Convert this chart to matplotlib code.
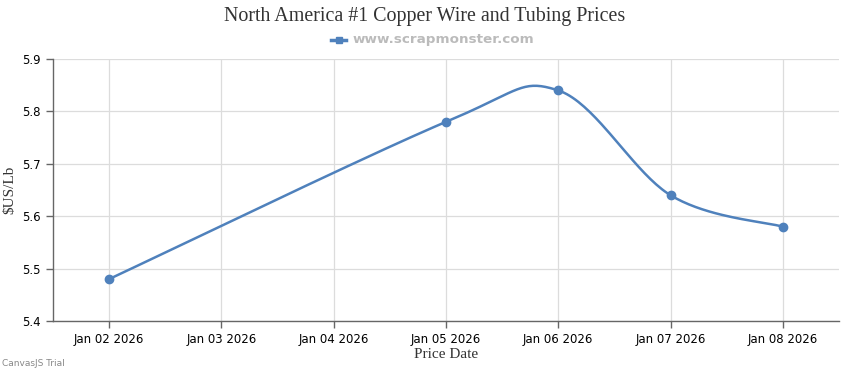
import matplotlib
matplotlib.use("Agg")
import matplotlib.pyplot as plt
from matplotlib.lines import Line2D
import numpy as np

# values
dates = ["Jan 02 2026", "Jan 03 2026", "Jan 04 2026", "Jan 05 2026",
         "Jan 06 2026", "Jan 07 2026", "Jan 08 2026"]
day_idx = [0, 3, 4, 5, 6]          # which dates have a price
prices = [5.48, 5.78, 5.84, 5.64, 5.58]
yticks = [5.4, 5.5, 5.6, 5.7, 5.8, 5.9]

blue = "#4F81BC"


def spline(xs, ys, n=40):
    # cardinal (catmull-rom) curve through the points, like a canvasjs spline
    pts = np.column_stack([xs, ys]).astype(float)
    out = []
    for i in range(len(pts) - 1):
        p0 = pts[max(i - 1, 0)]
        p1 = pts[i]
        p2 = pts[i + 1]
        p3 = pts[min(i + 2, len(pts) - 1)]
        c1 = p1 + (p2 - p0) / 6
        c2 = p2 - (p3 - p1) / 6
        t = np.linspace(0, 1, n)[:, None]
        seg = ((1 - t) ** 3) * p1 + 3 * ((1 - t) ** 2) * t * c1 \
            + 3 * (1 - t) * t ** 2 * c2 + t ** 3 * p2
        out.append(seg if i == 0 else seg[1:])
    c = np.vstack(out)
    return c[:, 0], c[:, 1]


fig = plt.figure(figsize=(8.5, 3.7), dpi=100)
ax = fig.add_axes([53 / 850, 1 - 321 / 370, (839 - 53) / 850, (321 - 59) / 370])

cx, cy = spline(day_idx, prices)
ax.plot(cx, cy, color=blue, lw=1.8, zorder=3)
ax.plot(day_idx, prices, "o", color=blue, ms=6, zorder=4)

ax.set_xlim(-0.5, len(dates) - 0.5)
ax.set_ylim(5.4, 5.9)
ax.set_xticks(range(len(dates)))
ax.set_xticklabels(dates)
ax.set_yticks(yticks)
ax.set_yticklabels(["%.1f" % v for v in yticks])
ax.grid(True, color="#DCDCDC", lw=0.9)
ax.set_axisbelow(True)

for s in ["top", "right"]:
    ax.spines[s].set_visible(False)
for s in ["left", "bottom"]:
    ax.spines[s].set_color("#666666")
    ax.spines[s].set_linewidth(1)
ax.tick_params(axis="both", colors="#666666", length=5, width=1,
               labelsize=8.5, labelcolor="#000000", pad=4)

ax.set_xlabel("Price Date", family="Liberation Serif", fontsize=11, color="#333333", labelpad=1)
ax.set_ylabel("$US/Lb", family="Liberation Serif", fontsize=11, color="#333333", labelpad=4)

fig.text(0.5, 1 - 16 / 370, "North America #1 Copper Wire and Tubing Prices",
         family="Liberation Serif", fontsize=14.4, color="#333333", ha="center", va="center")

# legend
fig.add_artist(Line2D([331 / 850, 346 / 850], [1 - 40 / 370] * 2, color=blue, lw=2.5,
                      transform=fig.transFigure))
fig.add_artist(Line2D([338.5 / 850], [1 - 40 / 370], color=blue, marker="s", ms=5,
                      transform=fig.transFigure))
fig.text(353 / 850, 1 - 40 / 370, "www.scrapmonster.com", fontsize=9.7, fontweight="bold",
         color="#BBBBBB", ha="left", va="center")

fig.text(2 / 850, 1 - 363 / 370, "CanvasJS Trial", fontsize=6.5, color="#888888",
         ha="left", va="center")

fig.savefig("out.png", dpi=100, facecolor="white")
